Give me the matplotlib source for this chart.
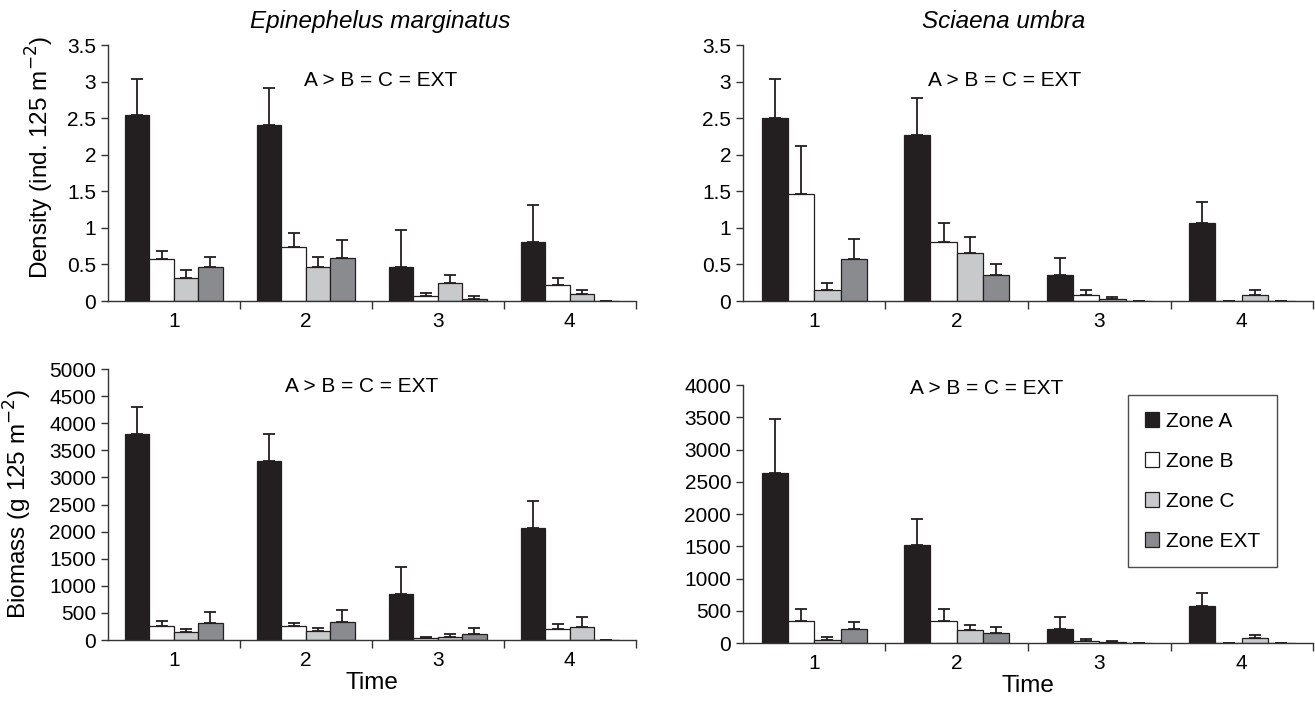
import numpy as np
import matplotlib
matplotlib.use('Agg')
import matplotlib.pyplot as plt
from matplotlib.ticker import FormatStrFormatter

plt.rcParams['font.family'] = ['Liberation Sans', 'DejaVu Sans']

# ------------------------------------------------------------------------------------------------ #
# Data: bar = mean, top = top of the (upper) error bar.
# Each panel: one list per zone (A, B, C, EXT), values for time 1..4.
# ------------------------------------------------------------------------------------------------ #
times = ['1', '2', '3', '4']
zones = ['Zone A', 'Zone B', 'Zone C', 'Zone EXT']
zone_colors = ['#231f20', '#ffffff', '#c8c9cb', '#8a8b8e']

# Epinephelus marginatus, density (ind. 125 m-2)
em_dens = [[2.54, 2.41, 0.46, 0.81],
           [0.57, 0.74, 0.07, 0.22],
           [0.31, 0.46, 0.24, 0.09],
           [0.46, 0.59, 0.03, 0.005]]
em_dens_top = [[3.04, 2.91, 0.97, 1.31],
               [0.68, 0.93, 0.11, 0.31],
               [0.42, 0.60, 0.35, 0.15],
               [0.60, 0.84, 0.07, 0.005]]

# Sciaena umbra, density
su_dens = [[2.50, 2.27, 0.35, 1.07],
           [1.46, 0.80, 0.08, 0.0],
           [0.15, 0.65, 0.03, 0.08],
           [0.57, 0.35, 0.0, 0.0]]
su_dens_top = [[3.04, 2.78, 0.59, 1.35],
               [2.12, 1.07, 0.15, 0.0],
               [0.24, 0.87, 0.06, 0.15],
               [0.85, 0.50, 0.0, 0.0]]

# Epinephelus marginatus, biomass (g 125 m-2)
em_bio = [[3805, 3305, 855, 2073],
          [258, 258, 37, 201],
          [146, 175, 55, 232],
          [320, 325, 118, 0]]
em_bio_top = [[4293, 3793, 1341, 2567],
              [348, 320, 55, 287],
              [195, 228, 117, 433],
              [518, 550, 230, 0]]

# Sciaena umbra, biomass
su_bio = [[2630, 1526, 224, 578],
          [349, 349, 36, 0],
          [47, 198, 15, 73],
          [224, 151, 0, 0]]
su_bio_top = [[3474, 1927, 401, 776],
              [521, 521, 57, 0],
              [99, 276, 31, 125],
              [323, 245, 0, 0]]

note = 'A > B = C = EXT'


def draw_panel(ax, means, tops, ymax, ystep, fmt, note_xy):
    x = np.arange(1, len(times) + 1)
    w = 0.185
    for k in range(len(zones)):
        pos = x + (k - 1.5) * w
        m = np.array(means[k], dtype=float)
        e = np.array(tops[k], dtype=float) - m
        ax.errorbar(pos, m, yerr=[np.zeros_like(m), e], fmt='none', ecolor='#231f20',
                    elinewidth=1.3, capsize=4, capthick=1.3, zorder=1)
        ax.bar(pos, m, w, color=zone_colors[k], edgecolor='#231f20', linewidth=0.9,
               label=zones[k], zorder=2)
    ax.set_xlim(0.5, 4.5)
    ax.set_ylim(0, ymax)
    ax.set_yticks(np.arange(0, ymax + ystep / 2, ystep))
    ax.yaxis.set_major_formatter(FormatStrFormatter(fmt))
    ax.set_xticks(x)
    ax.set_xticklabels(times)
    ax.set_xticks(x + 0.5, minor=True)
    ax.tick_params(axis='x', which='major', length=0, pad=8, labelsize=15)
    ax.tick_params(axis='x', which='minor', length=6, width=1, color='#333333', direction='out')
    ax.tick_params(axis='y', length=5, width=1, color='#333333', direction='out', labelsize=15)
    for s in ['top', 'right']:
        ax.spines[s].set_visible(False)
    for s in ['left', 'bottom']:
        ax.spines[s].set_color('#333333')
        ax.spines[s].set_linewidth(1)
    ax.text(note_xy[0], note_xy[1], note, transform=ax.transAxes, ha='center', va='center',
            fontsize=15)


fig = plt.figure(figsize=(13.15, 7.01), dpi=100)

ax1 = fig.add_axes([0.082, 0.5706, 0.4015, 0.3652])
ax2 = fig.add_axes([0.565, 0.5706, 0.4335, 0.3652])
ax3 = fig.add_axes([0.082, 0.087, 0.4015, 0.3866])
ax4 = fig.add_axes([0.565, 0.0827, 0.4335, 0.368])

draw_panel(ax1, em_dens, em_dens_top, 3.5, 0.5, '%g', (0.517, 0.863))
draw_panel(ax2, su_dens, su_dens_top, 3.5, 0.5, '%g', (0.459, 0.863))
draw_panel(ax3, em_bio, em_bio_top, 5000, 500, '%d', (0.48, 0.935))
draw_panel(ax4, su_bio, su_bio_top, 4000, 500, '%d', (0.427, 0.985))

ax1.set_ylabel('Density (ind. 125 m$^{-2}$)', fontsize=17.5)
ax1.yaxis.set_label_coords(-0.098, 0.56)
ax3.set_ylabel('Biomass (g 125 m$^{-2}$)', fontsize=17.5)
ax3.yaxis.set_label_coords(-0.14, 0.5)
ax3.set_xlabel('Time', fontsize=17.5, labelpad=1)
ax4.set_xlabel('Time', fontsize=17.5, labelpad=1)

fig.text(0.289, 0.969, 'Epinephelus marginatus', style='italic', fontsize=17.5,
         ha='center', va='center')
fig.text(0.763, 0.969, 'Sciaena umbra', style='italic', fontsize=17.5, ha='center', va='center')

leg = ax4.legend(loc='upper left', bbox_to_anchor=(1118 / 1315, 1 - 385 / 701),
                 bbox_transform=fig.transFigure, fontsize=15, frameon=True, fancybox=False,
                 handlelength=0.65, handleheight=0.75, handletextpad=0.35,
                 labelspacing=1.0, borderpad=0.8)
leg.get_frame().set_edgecolor('#231f20')
leg.get_frame().set_linewidth(1)

fig.savefig('out.png', dpi=100)
